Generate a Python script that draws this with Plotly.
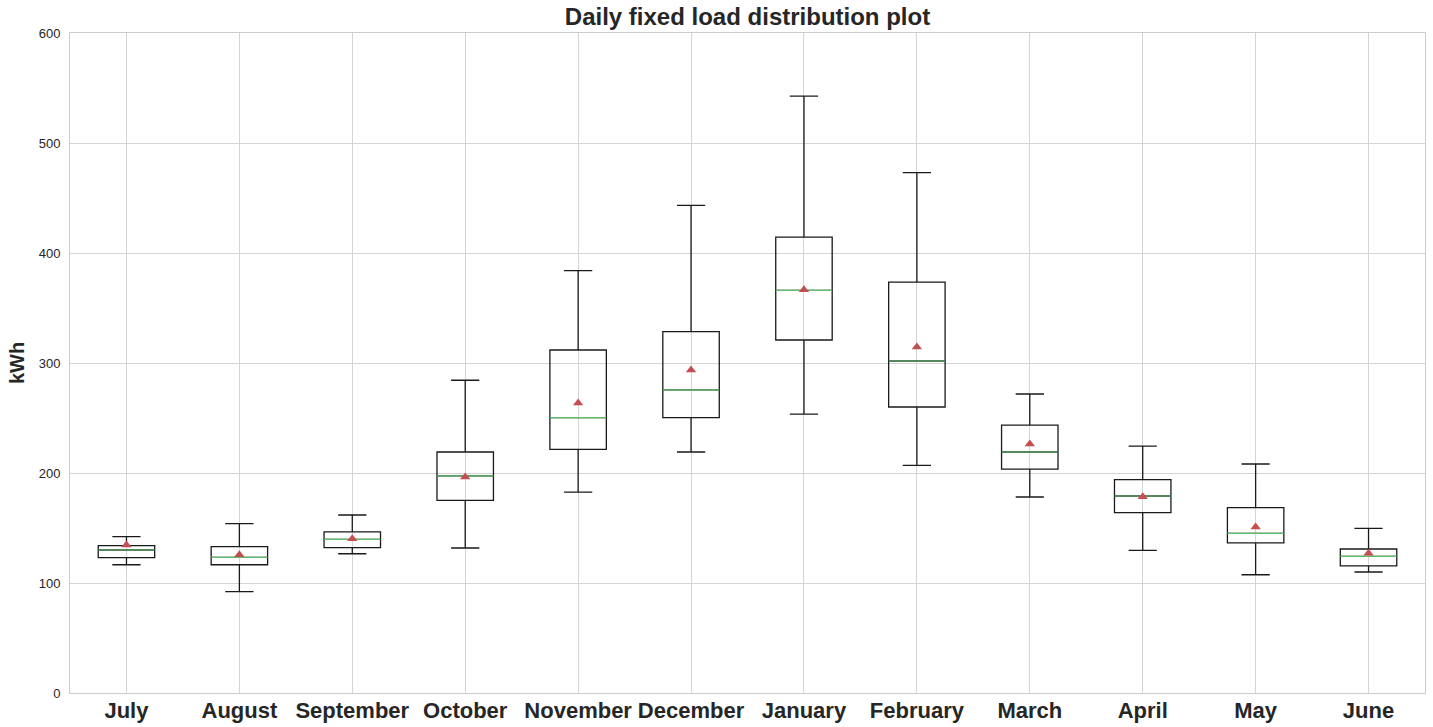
import plotly.graph_objects as go

months = ["July", "August", "September", "October", "November", "December",
          "January", "February", "March", "April", "May", "June"]
lower_whisker = [116.6, 92.1, 126.6, 131.8, 182.7, 219.1, 253.6, 207.0, 178.2, 129.7, 107.5, 110.0]
q1 = [123.0, 116.6, 132.1, 175.2, 221.5, 250.3, 320.9, 260.0, 203.6, 163.9, 136.4, 115.5]
median = [130.0, 123.3, 139.7, 197.3, 250.3, 275.5, 366.1, 301.8, 219.1, 179.1, 145.2, 124.2]
q3 = [133.9, 133.0, 146.4, 219.1, 311.8, 328.5, 414.5, 373.6, 243.6, 193.9, 168.5, 130.9]
upper_whisker = [142.1, 153.9, 161.8, 284.3, 383.9, 443.3, 542.7, 473.0, 271.8, 224.5, 208.2, 149.7]
mean = [134.5, 125.7, 140.3, 196.4, 263.6, 293.6, 366.5, 314.5, 226.4, 178.5, 150.9, 127.0]

fig = go.Figure()

fig.add_trace(go.Box(
    x=months, q1=q1, median=median, q3=q3,
    lowerfence=lower_whisker, upperfence=upper_whisker,
    width=0.5, whiskerwidth=0.5,
    line=dict(color="#1a1a1a", width=1.3),
    fillcolor="rgba(255,255,255,0)",
    boxpoints=False, showlegend=False, hoverinfo="skip",
))

# green median lines
fig.add_trace(go.Box(
    x=months, q1=median, median=median, q3=median,
    lowerfence=median, upperfence=median,
    width=0.5, whiskerwidth=0,
    line=dict(color="#5BBE6A", width=1.2),
    fillcolor="rgba(255,255,255,0)",
    boxpoints=False, showlegend=False, hoverinfo="skip",
))

fig.add_trace(go.Scatter(
    x=months, y=mean, mode="markers",
    marker=dict(symbol="triangle-up", size=9, color="#C44E52"),
    showlegend=False, hoverinfo="skip",
))

fig.update_layout(
    width=1433, height=727,
    margin=dict(l=70, r=8, t=33, b=34),
    paper_bgcolor="white", plot_bgcolor="white",
    font=dict(family="Liberation Sans, Arial, sans-serif", color="#262626"),
    title=dict(text="<b>Daily fixed load distribution plot</b>",
               x=0.5, xref="paper", xanchor="center",
               y=1 - 17 / 727, yref="container", yanchor="middle",
               font=dict(size=24, color="#262626")),
    boxmode="overlay",
    xaxis=dict(
        type="category", range=[-0.5, 11.5], automargin=False,
        showgrid=True, gridcolor="#d5d5d5", gridwidth=1,
        showline=True, linecolor="#cccccc", linewidth=1, mirror=True,
        ticks="", tickfont=dict(size=22, color="#262626"),
        ticklabelstandoff=-2,
        tickvals=months, ticktext=["<b>%s</b>" % m for m in months],
        zeroline=False,
    ),
    yaxis=dict(
        range=[0, 600], tickvals=[0, 100, 200, 300, 400, 500, 600],
        automargin=False,
        showgrid=True, gridcolor="#d5d5d5", gridwidth=1,
        showline=True, linecolor="#cccccc", linewidth=1, mirror=True,
        ticks="", tickfont=dict(size=13, color="#262626"),
        ticklabelstandoff=6,
        zeroline=False,
        title=dict(text="<b>kWh</b>", font=dict(size=20, color="#262626"), standoff=8),
    ),
)

fig.write_html("out.html")
